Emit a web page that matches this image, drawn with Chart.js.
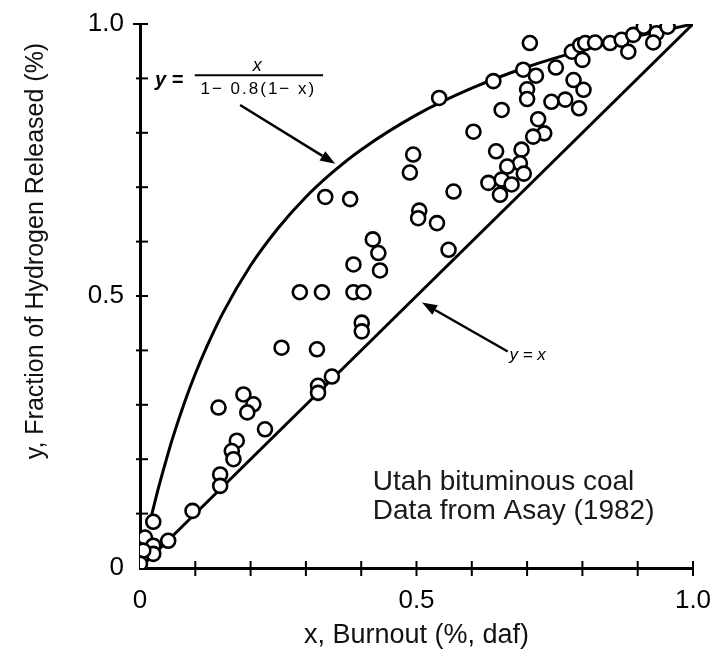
<!DOCTYPE html>
<html>
<head>
<meta charset="utf-8">
<script src="https://cdn.jsdelivr.net/npm/chart.js@4.4.1/dist/chart.umd.min.js"></script>
<style>
html,body{margin:0;padding:0;background:#fff;}
#wrap{width:717px;height:661px;position:relative;}
</style>
</head>
<body>
<div id="wrap"><canvas id="c" width="717" height="661"></canvas></div>
<script>
// ---- data ----
const burnoutX = [0.494,0.488,0.335,0.380,0.505,0.503,0.421,0.431,0.434,0.386,
  0.289,0.329,0.386,0.404,0.401,0.401,0.256,0.320,0.347,0.322,
  0.322,0.187,0.205,0.142,0.194,0.226,0.175,0.166,0.169,0.145,
  0.145,0.095,0.024,0.051,0.009,0.024,0.024,0.006,0.000,
  0.705,0.639,0.541,0.693,0.716,0.752,0.700,0.700,0.654,0.784,
  0.802,0.744,0.769,0.794,0.781,0.800,0.796,0.805,0.823,0.850,
  0.871,0.883,0.892,0.911,0.934,0.928,0.954,0.603,0.720,0.731,
  0.711,0.644,0.690,0.687,0.664,0.694,0.630,0.654,0.672,0.651,
  0.567,0.537,0.558];
const hydrogenY = [0.760,0.727,0.682,0.678,0.657,0.643,0.604,0.579,0.547,0.558,
  0.507,0.507,0.507,0.507,0.451,0.435,0.405,0.402,0.352,0.335,
  0.322,0.319,0.301,0.295,0.286,0.255,0.234,0.215,0.200,0.172,
  0.151,0.105,0.085,0.050,0.056,0.041,0.026,0.032,0.008,
  0.965,0.895,0.864,0.916,0.905,0.920,0.880,0.862,0.842,0.897,
  0.879,0.857,0.861,0.845,0.949,0.934,0.961,0.965,0.966,0.965,
  0.971,0.949,0.980,0.995,0.983,0.966,0.995,0.802,0.825,0.799,
  0.793,0.766,0.769,0.744,0.738,0.725,0.708,0.714,0.705,0.686,
  0.692,0.634,0.585];
// upper curve y = x / (1 - 0.8(1 - x))
const modelX = [0.02,0.03,0.04,0.05,0.06,0.08,0.10,0.12,0.15,0.20,0.25,0.30,0.35,0.40,0.50,0.60,0.70,0.80,0.90,1.00];
const modelY = [0.093,0.134,0.172,0.208,0.242,0.303,0.357,0.405,0.469,0.556,0.625,0.682,0.729,0.769,0.833,0.882,0.921,0.952,0.978,1.000];
// lower line y = x
const diagX = [0, 1];
const diagY = [0, 1];
const tickValues = [0, 0.5, 1.0];
const tickLabels = ['0', '0.5', '1.0'];
const xTitle = 'x, Burnout (%, daf)';
const yTitle = 'y, Fraction of Hydrogen Released (%)';
const noteLines = ['Utah bituminous coal', 'Data from Asay (1982)'];
const curveLabelLeft = 'y =';
const curveLabelNum = 'x';
const curveLabelDen = '1\u2212 0.8(1\u2212 x)';
const lineLabel = 'y = x';

const SANS = '"Liberation Sans", Arial, Helvetica, sans-serif';
const INK = '#000';

function pairs(xs, ys){ return xs.map((x,i)=>({x:x, y:ys[i]})); }
function fmtTick(v){
  for (let i=0;i<tickValues.length;i++){ if (Math.abs(v-tickValues[i])<1e-6) return tickLabels[i]; }
  return '';
}

function arrow(ctx, x0, y0, x1, y1){
  const ang = Math.atan2(y1-y0, x1-x0);
  const L = 15, W = 5.5;
  const bx = x1 - L*Math.cos(ang), by = y1 - L*Math.sin(ang);
  ctx.beginPath(); ctx.moveTo(x0,y0); ctx.lineTo(bx,by); ctx.stroke();
  ctx.beginPath();
  ctx.moveTo(x1,y1);
  ctx.lineTo(bx + W*Math.sin(ang), by - W*Math.cos(ang));
  ctx.lineTo(bx - W*Math.sin(ang), by + W*Math.cos(ang));
  ctx.closePath(); ctx.fill();
}

const decorPlugin = {
  id: 'decor',
  afterDraw(chart){
    const ctx = chart.ctx, xs = chart.scales.x, ys = chart.scales.y;
    const X = v => xs.getPixelForValue(v), Y = v => ys.getPixelForValue(v);
    const ca = chart.chartArea;
    ctx.save();
    ctx.strokeStyle = INK; ctx.fillStyle = INK;
    // crossing tick marks
    ctx.lineWidth = 2;
    xs.ticks.forEach(t => {
      if (Math.abs(t.value) < 1e-6) return;
      const p = X(t.value);
      ctx.beginPath(); ctx.moveTo(p, ca.bottom-7); ctx.lineTo(p, ca.bottom+8); ctx.stroke();
    });
    ys.ticks.forEach(t => {
      if (Math.abs(t.value) < 1e-6) return;
      const p = Y(t.value);
      const left = Math.abs(t.value-1) < 1e-6 ? 7 : 4;
      ctx.beginPath(); ctx.moveTo(ca.left-left, p); ctx.lineTo(ca.left+8, p); ctx.stroke();
    });
    // y axis title
    ctx.save();
    ctx.translate(36, 251);
    ctx.rotate(-Math.PI/2);
    ctx.font = '25px ' + SANS;
    ctx.textAlign = 'center'; ctx.textBaseline = 'middle';
    ctx.fillStyle = '#111';
    ctx.fillText(yTitle, 0, 0);
    ctx.restore();
    // curve formula label
    ctx.textBaseline = 'middle';
    ctx.textAlign = 'left';
    ctx.font = 'italic bold 20px ' + SANS;
    ctx.fillText(curveLabelLeft, X(0.027), Y(0.897));
    ctx.lineWidth = 2;
    ctx.beginPath(); ctx.moveTo(X(0.099), Y(0.906)); ctx.lineTo(X(0.331), Y(0.906)); ctx.stroke();
    ctx.textAlign = 'center';
    ctx.font = 'italic 18px ' + SANS;
    ctx.fillText(curveLabelNum, X(0.212), Y(0.923));
    ctx.font = '17px ' + SANS;
    try { ctx.letterSpacing = '2px'; } catch(e) {}
    ctx.fillText(curveLabelDen, X(0.214), Y(0.880));
    try { ctx.letterSpacing = '0px'; } catch(e) {}
    // arrows
    ctx.lineWidth = 2.5;
    arrow(ctx, X(0.181), Y(0.851), X(0.353), Y(0.743));
    arrow(ctx, X(0.665), Y(0.398), X(0.510), Y(0.488));
    ctx.textAlign = 'left';
    ctx.font = 'italic 17px ' + SANS;
    ctx.fillText(lineLabel, X(0.668), Y(0.391));
    // note
    ctx.font = '28px ' + SANS;
    ctx.fillStyle = '#1a1a1a';
    ctx.fillText(noteLines[0], X(0.421), Y(0.158));
    ctx.fillText(noteLines[1], X(0.421), Y(0.105));
    ctx.restore();
  }
};

new Chart(document.getElementById('c'), {
  type: 'scatter',
  data: {
    datasets: [
      {
        label: 'Asay (1982)',
        data: pairs(burnoutX, hydrogenY),
        pointRadius: 7,
        pointBorderWidth: 2.6,
        pointBackgroundColor: '#fff',
        pointBorderColor: INK,
        order: 0
      },
      {
        type: 'line',
        label: 'y = x/(1-0.8(1-x))',
        data: pairs(modelX, modelY),
        borderColor: INK,
        borderWidth: 3,
        pointRadius: 0,
        fill: false,
        cubicInterpolationMode: 'monotone',
        order: 1
      },
      {
        type: 'line',
        label: 'y = x',
        data: pairs(diagX, diagY),
        borderColor: INK,
        borderWidth: 3,
        pointRadius: 0,
        fill: false,
        order: 2
      }
    ]
  },
  options: {
    responsive: false,
    devicePixelRatio: 1,
    animation: false,
    layout: { padding: { top: 24, right: 24, left: 0, bottom: 0 } },
    plugins: { legend: { display: false }, tooltip: { enabled: false } },
    scales: {
      x: {
        type: 'linear', min: 0, max: 1,
        grid: { display: false, drawTicks: false },
        border: { display: true, color: INK, width: 3 },
        ticks: {
          stepSize: 0.1, autoSkip: false, maxRotation: 0, padding: 17,
          color: INK, font: { family: SANS, size: 26 },
          callback: v => fmtTick(v)
        },
        title: {
          display: true, text: xTitle, color: '#111',
          font: { family: SANS, size: 27 },
          padding: { top: 0, bottom: 9 }
        },
        afterFit: s => { s.height = 93; s.paddingLeft = 0; s.paddingRight = 0; }
      },
      y: {
        type: 'linear', min: 0, max: 1,
        grid: { display: false, drawTicks: false },
        border: { display: true, color: INK, width: 3 },
        ticks: {
          stepSize: 0.1, autoSkip: false, padding: 16,
          color: INK, font: { family: SANS, size: 26 },
          callback: v => fmtTick(v)
        },
        afterFit: s => { s.width = 140; s.paddingTop = 0; s.paddingBottom = 0; }
      }
    }
  },
  plugins: [decorPlugin]
});
</script>
</body>
</html>
